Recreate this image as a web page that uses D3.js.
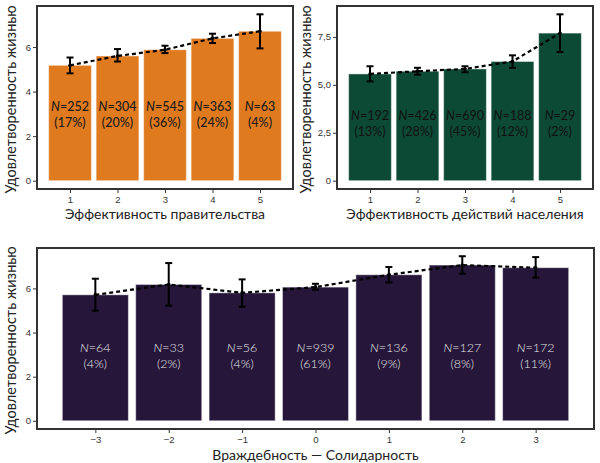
<!DOCTYPE html>
<html lang="ru">
<head>
<meta charset="UTF-8">
<title>Удовлетворенность жизнью</title>
<style>
  body { margin: 0; background: #fff; }
  svg { font-family: Lato, "DejaVu Sans", sans-serif; }
  .tick text { fill: #333; font-size: 9.5px; }
  .tick line { stroke: #333; }
  .domain { display: none; }
</style>
</head>
<body>
<svg id="chart" width="600" height="463"></svg>
<script src="https://cdn.jsdelivr.net/npm/d3@7"></script>
<script>
// панель 1: эффективность правительства
const govLevels = [1, 2, 3, 4, 5];
const govMean = [5.18, 5.60, 5.88, 6.39, 6.71];
const govLo = [4.82, 5.35, 5.73, 6.18, 5.94];
const govHi = [5.53, 5.91, 6.06, 6.60, 7.47];
const govN = [252, 304, 545, 363, 63];
const govPct = [17, 20, 36, 24, 4];

// панель 2: эффективность действий населения
const popLevels = [1, 2, 3, 4, 5];
const popMean = [5.57, 5.71, 5.83, 6.22, 7.70];
const popLo = [5.18, 5.53, 5.66, 5.89, 6.71];
const popHi = [5.97, 5.89, 5.97, 6.54, 8.68];
const popN = [192, 426, 690, 188, 29];
const popPct = [13, 28, 45, 12, 2];

// панель 3: враждебность — солидарность
const solLevels = [-3, -2, -1, 0, 1, 2, 3];
const solMean = [5.71, 6.18, 5.80, 6.06, 6.62, 7.06, 6.94];
const solLo = [4.99, 5.22, 5.17, 5.94, 6.27, 6.67, 6.49];
const solHi = [6.44, 7.15, 6.41, 6.21, 6.97, 7.46, 7.42];
const solN = [64, 33, 56, 939, 136, 127, 172];
const solPct = [4, 2, 4, 61, 9, 8, 11];

const yTitle = "Удовлетворенность жизнью";
const svg = d3.select("#chart");

function panel(opt) {
  const { x0, y0, w, h, levels, mean, lo, hi, n, pct, fill, textColor, textWeight,
          yTicks, yFmt, xTitle, xTitleY, yTitleX } = opt;
  const data = levels.map((l, i) => ({ l, m: mean[i], lo: lo[i], hi: hi[i], n: n[i], p: pct[i] }));

  // как в ggplot: ширина столбцов 0.9 и 5% расширения
  const xmin = d3.min(levels) - 0.45, xmax = d3.max(levels) + 0.45;
  const xpad = (xmax - xmin) * 0.05;
  const x = d3.scaleLinear().domain([xmin - xpad, xmax + xpad]).range([0, w]);
  const ymax = d3.max(hi);
  const y = d3.scaleLinear().domain([-ymax * 0.05, ymax * 1.05]).range([h, 0]);

  const g = svg.append("g").attr("transform", `translate(${x0},${y0})`);

  g.append("g").attr("transform", `translate(0,${h})`)
    .call(d3.axisBottom(x).tickValues(levels).tickSize(4).tickPadding(3)
      .tickFormat(d => d < 0 ? "\u2212" + Math.abs(d) : d));
  g.append("g")
    .call(d3.axisLeft(y).tickValues(yTicks).tickSize(4).tickPadding(2).tickFormat(yFmt));

  const bw = x(0.9) - x(0);
  g.selectAll(".bar").data(data).join("rect")
    .attr("x", d => x(d.l) - bw / 2)
    .attr("width", bw)
    .attr("y", d => y(d.m))
    .attr("height", d => y(0) - y(d.m))
    .attr("fill", fill)
    .attr("stroke", "rgba(255,255,255,0.45)")
    .attr("stroke-width", 1);

  const lbl = g.selectAll(".lbl").data(data).join("text")
    .attr("text-anchor", "middle")
    .attr("fill", textColor)
    .attr("font-size", 12.5)
    .attr("font-weight", textWeight);
  lbl.append("tspan").attr("x", d => x(d.l)).attr("y", y(3) - 3)
    .attr("font-style", "italic").text("N");
  lbl.append("tspan").text(d => "=" + d.n);
  lbl.append("tspan").attr("x", d => x(d.l)).attr("y", y(3) + 13)
    .text(d => "(" + d.p + "%)");

  g.append("path").datum(data)
    .attr("d", d3.line().x(d => x(d.l)).y(d => y(d.m)))
    .attr("fill", "none")
    .attr("stroke", "#000")
    .attr("stroke-width", 2.2)
    .attr("stroke-dasharray", "4,3");

  const cap = 3.5;
  const eb = g.selectAll(".eb").data(data).join("g").attr("stroke", "#000").attr("stroke-width", 2);
  eb.append("line").attr("x1", d => x(d.l)).attr("x2", d => x(d.l))
    .attr("y1", d => y(d.lo)).attr("y2", d => y(d.hi));
  eb.append("line").attr("x1", d => x(d.l) - cap).attr("x2", d => x(d.l) + cap)
    .attr("y1", d => y(d.lo)).attr("y2", d => y(d.lo));
  eb.append("line").attr("x1", d => x(d.l) - cap).attr("x2", d => x(d.l) + cap)
    .attr("y1", d => y(d.hi)).attr("y2", d => y(d.hi));
  g.selectAll(".pt").data(data).join("circle")
    .attr("cx", d => x(d.l)).attr("cy", d => y(d.m)).attr("r", 1.8).attr("fill", "#000");

  g.append("rect").attr("width", w).attr("height", h)
    .attr("fill", "none").attr("stroke", "#333").attr("stroke-width", 2);

  svg.append("text").attr("x", x0 + w / 2).attr("y", xTitleY)
    .attr("text-anchor", "middle").attr("font-size", 14).attr("fill", "#222").text(xTitle);
  svg.append("text")
    .attr("transform", `translate(${yTitleX},${y0 + h / 2 + 2}) rotate(-90)`)
    .attr("text-anchor", "middle").attr("font-size", 14.5).attr("fill", "#222").text(yTitle);
}

const fmtInt = d => d;
const fmtComma = d => d === 0 ? "0" : d3.format(".1f")(d).replace(".", ",");

panel({ x0: 37, y0: 6, w: 256, h: 183, levels: govLevels, mean: govMean, lo: govLo, hi: govHi,
  n: govN, pct: govPct, fill: "#E07A1F", textColor: "#1a1a1a", textWeight: 500,
  yTicks: [0, 2, 4, 6], yFmt: fmtInt, xTitle: "Эффективность правительства", xTitleY: 219, yTitleX: 16 });

panel({ x0: 337, y0: 6, w: 256, h: 183, levels: popLevels, mean: popMean, lo: popLo, hi: popHi,
  n: popN, pct: popPct, fill: "#0C4A36", textColor: "#111", textWeight: 400,
  yTicks: [0, 2.5, 5, 7.5], yFmt: fmtComma, xTitle: "Эффективность действий населения", xTitleY: 219, yTitleX: 311 });

panel({ x0: 37, y0: 248, w: 557, h: 181, levels: solLevels, mean: solMean, lo: solLo, hi: solHi,
  n: solN, pct: solPct, fill: "#25163A", textColor: "#e6e6e6", textWeight: 300,
  yTicks: [0, 2, 4, 6], yFmt: fmtInt, xTitle: "Враждебность — Солидарность", xTitleY: 460, yTitleX: 16 });
</script>
</body>
</html>
